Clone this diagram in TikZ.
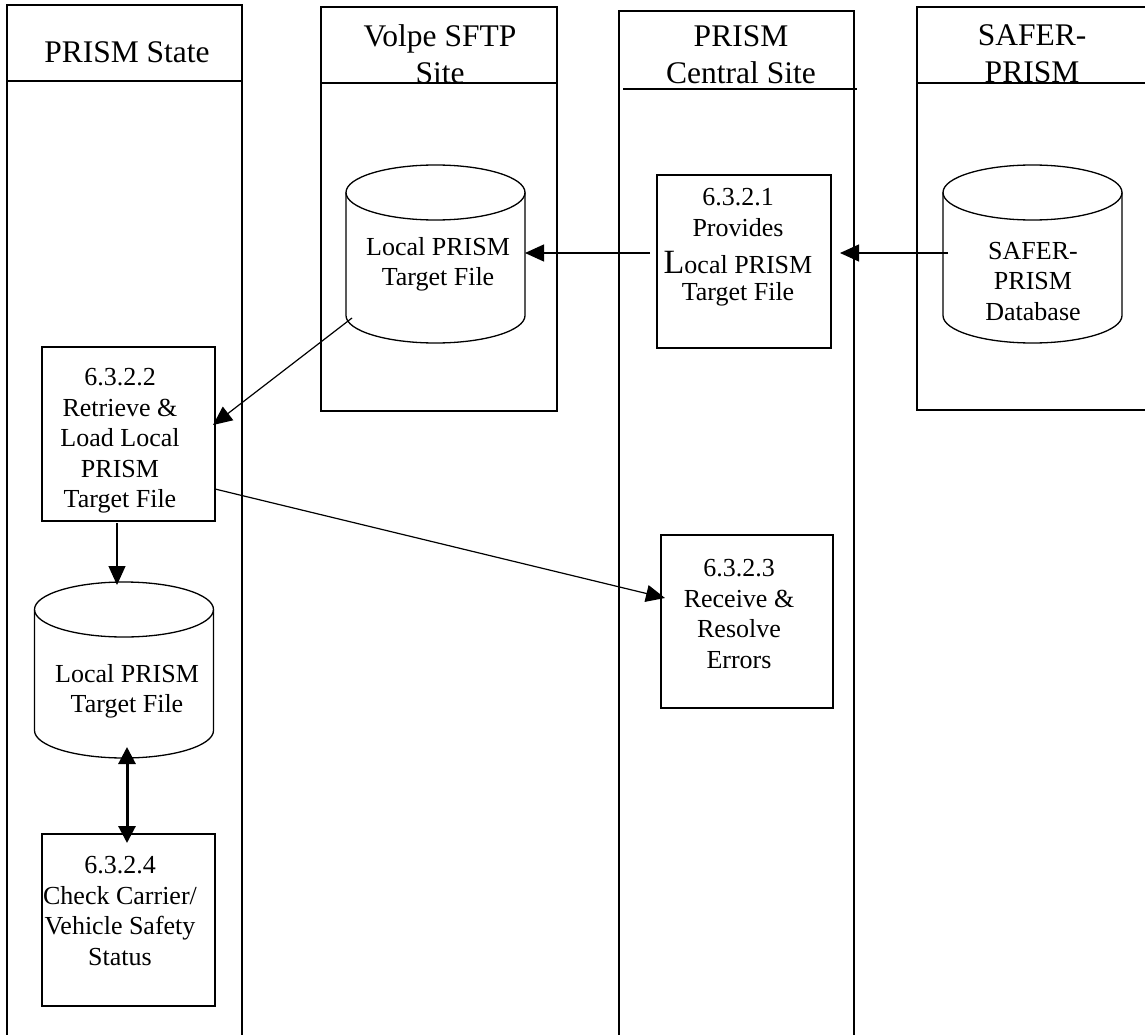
\documentclass[tikz,border=0pt]{standalone}
\usepackage{fontspec}
\setmainfont{Liberation Serif}
\usetikzlibrary{arrows.meta}
\newcommand{\drawdbcyl}[1]{%
  \draw[shapeline] ([yshift=-27.5pt]#1.north west) -- ([yshift=27.5pt]#1.south west)
    arc[start angle=180,end angle=360,x radius=89.5pt,y radius=27.5pt]
    -- ([yshift=-27.5pt]#1.north east);
  \draw[shapeline] ([yshift=-27.5pt]#1.north) ellipse[x radius=89.5pt,y radius=27.5pt];}
\begin{document}
\begin{tikzpicture}[x=1pt,y=-1pt,
  lane/.style={draw, line width=1.4pt, inner sep=0pt, outer sep=0pt, anchor=north west},
  laneline/.style={line width=1.4pt},
  shapeline/.style={line width=1.3pt},
  procbox/.style={draw, line width=1.3pt, inner sep=0pt, outer sep=0pt},
  dbnode/.style={inner sep=0pt, outer sep=0pt, minimum width=179pt},
  body/.style={font=\fontsize{26}{30.5}\selectfont, align=center, inner sep=0pt},
  head/.style={font=\fontsize{31.5}{37}\selectfont, align=center, inner sep=0pt},
  arr/.style={line width=1.2pt, -{Triangle[length=19pt,width=17pt]}},
  darr/.style={line width=3pt, {Triangle[length=17pt,width=17pt]}-{Triangle[length=17pt,width=17pt]}}]
\useasboundingbox (0,0) rectangle (1145,1035);
\clip (0,0) rectangle (1145,1035);
\fill[white] (0,0) rectangle (1145,1035);

% swim lanes
\node[lane, minimum width=235pt, minimum height=1100pt] (laneA) at (7,5) {};
\node[lane, minimum width=236pt, minimum height=404pt] (laneB) at (321,7) {};
\node[lane, minimum width=235pt, minimum height=1100pt] (laneC) at (619,11) {};
\node[lane, minimum width=250pt, minimum height=403pt] (laneD) at (917,7) {};
\draw[laneline] (laneA.north west) ++(0,76) -- ++(235,0);
\draw[laneline] (laneB.north west) ++(0,76) -- ++(236,0);
\draw[laneline] (laneC.north west) ++(4,78) -- ++(234,0);
\draw[laneline] (laneD.north west) ++(0,76) -- ++(250,0);

\node[head] (hA) at (127,52) {PRISM State};
\node[head] (hB) at (440,54) {Volpe SFTP\\Site};
\node[head] (hC) at (741,54.5) {PRISM\\Central Site};
\node[head] (hD) at (1032,54) {SAFER-\\PRISM};

% process boxes
\node[procbox, minimum width=174pt, minimum height=173pt] (p1) at (744,261.5) {};
\node[procbox, minimum width=173pt, minimum height=174pt] (p2) at (128.5,434) {};
\node[procbox, minimum width=172pt, minimum height=173pt] (p3) at (747,621.5) {};
\node[procbox, minimum width=173pt, minimum height=172pt] (p4) at (128.5,920) {};

\node[body] (t1) at (738,247) {6.3.2.1\\Provides\\[6.5pt]{\fontsize{34}{34}\selectfont L}ocal PRISM\\[-3.5pt]Target File};
\node[body] (t2) at (120,441) {6.3.2.2\\Retrieve \&\\Load Local\\PRISM\\Target File};
\node[body] (t3) at (739,614) {6.3.2.3\\Receive \&\\Resolve\\Errors};
\node[body] (t4) at (120,911) {6.3.2.4\\Check Carrier/\\Vehicle Safety\\Status};

% data stores
\node[dbnode, minimum height=178pt] (cylA) at (435.5,254) {};
\node[dbnode, minimum height=178pt] (cylB) at (1032.5,254) {};
\node[dbnode, minimum height=176pt] (cylC) at (124,670) {};
\drawdbcyl{cylA}
\drawdbcyl{cylB}
\drawdbcyl{cylC}
\node[body] (tA) at (438,264.5) {Local PRISM\\Target File};
\node[body] (tB) at (1033,281.5) {SAFER-\\PRISM\\Database};
\node[body] (tC) at (127,691.5) {Local PRISM\\Target File};

% connectors
\draw[arr] ([xshift=5pt,yshift=1pt]cylB.west) -- ([xshift=9pt,yshift=8.5pt]p1.east);
\draw[arr] ([xshift=-7pt,yshift=8.5pt]p1.west) -- ([yshift=1pt]cylA.east);
\draw[arr] ([xshift=6pt,yshift=25pt]cylA.south west) -- ([xshift=-2pt,yshift=9pt]p2.east);
\draw[arr] ([yshift=-55pt]p2.east) -- ([xshift=4pt,yshift=23.5pt]p3.west);
\draw[arr] ([xshift=-11.5pt,yshift=-2pt]p2.south) -- ([xshift=-7pt,yshift=-3pt]cylC.north);
\draw[darr] ([xshift=3pt,yshift=11pt]cylC.south) -- ([xshift=-1.5pt,yshift=-9pt]p4.north);
\end{tikzpicture}
\end{document}
